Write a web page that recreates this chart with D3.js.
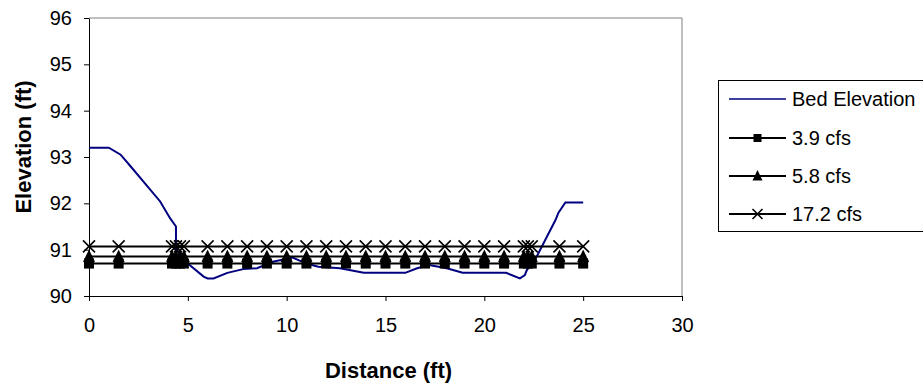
<!DOCTYPE html>
<html><head><meta charset="utf-8">
<script src="https://cdn.jsdelivr.net/npm/d3@7"></script>
<style>body{margin:0;background:#fff;} text{font-family:"Liberation Sans",Arial,sans-serif;}</style>
</head><body><svg id="c" width="923" height="391"></svg>
<script>
const bedX = [0, 1, 1.6, 2.1, 3.6, 4.1, 4.4, 4.4, 4.7, 5.0, 5.8, 6.0, 6.3, 7.0, 7.8, 8.5, 9.3, 10.3, 11.0, 11.6, 12.7, 13.9, 16.0, 16.6, 17.2, 18.1, 18.9, 21.1, 21.8, 22.05, 22.15, 22.6, 23.6, 23.75, 24.1, 25.0];
const bedY = [93.2, 93.2, 93.05, 92.8, 92.04, 91.68, 91.5, 91.0, 90.9, 90.7, 90.42, 90.38, 90.38, 90.5, 90.58, 90.6, 90.74, 90.83, 90.7, 90.63, 90.6, 90.5, 90.5, 90.6, 90.67, 90.6, 90.5, 90.5, 90.38, 90.45, 90.56, 90.81, 91.64, 91.8, 92.02, 92.02];
const wsX = [0, 1.5, 4.2, 4.4, 4.6, 4.8, 6, 7, 8, 9, 10, 11, 12, 13, 14, 15, 16, 17, 18, 19, 20, 21, 22, 22.2, 22.4, 23.8, 25];
const q39 = 90.7, q58 = 90.85, q172 = 91.07;
const seriesNames = ["Bed Elevation", "3.9 cfs", "5.8 cfs", "17.2 cfs"];
const xTicks = [0, 5, 10, 15, 20, 25, 30];
const yTicks = [90, 91, 92, 93, 94, 95, 96];

const svg = d3.select("#c");
const L = 89, R = 682, T = 18, B = 296;
const x = d3.scaleLinear().domain([0, 30]).range([L, R]);
const y = d3.scaleLinear().domain([90, 96]).range([B, T]);

svg.append("path").attr("d", `M${L},${T}H${R}V${B}`).attr("fill","none").attr("stroke","#808080").attr("stroke-width",1);

const xa = svg.append("g").attr("transform", `translate(0,${B})`).call(d3.axisBottom(x).tickValues(xTicks).tickFormat(d3.format("d")).tickSize(5).tickPadding(17).tickSizeOuter(0));
const ya = svg.append("g").attr("transform", `translate(${L},0)`).call(d3.axisLeft(y).tickValues(yTicks).tickFormat(d3.format("d")).tickSize(5).tickPadding(12).tickSizeOuter(0));
[xa, ya].forEach(a => {
  a.selectAll("path,line").attr("stroke", "#000").attr("stroke-width", 1);
  a.selectAll("text").attr("font-size", 20).attr("fill", "#000").attr("font-family", '"Liberation Sans",Arial,sans-serif');
});

svg.append("text").attr("x", x(15) + 3).attr("y", 378).attr("text-anchor","middle").attr("font-size",22).attr("font-weight","bold").text("Distance (ft)");
svg.append("text").attr("transform", `translate(31,147) rotate(-90)`).attr("text-anchor","middle").attr("font-size",22).attr("font-weight","bold").text("Elevation (ft)");

const bed = bedX.map((d,i)=>[d, bedY[i]]);
const line = d3.line().x(d=>x(d[0])).y(d=>y(d[1]));
svg.append("path").datum(bed).attr("d", line).attr("fill","none").attr("stroke","#000080").attr("stroke-width",2);

function marker(g, type, cx, cy, s) {
  if (type === "square") {
    g.append("rect").attr("x", cx - s/2).attr("y", cy - s/2).attr("width", s).attr("height", s).attr("fill","#000");
  } else if (type === "tri") {
    g.append("path").attr("d", `M${cx},${cy - s*0.6}L${cx + s/2},${cy + s*0.45}L${cx - s/2},${cy + s*0.45}Z`).attr("fill","#000");
  } else {
    const h = s/2;
    g.append("path").attr("d", `M${cx-h},${cy-h}L${cx+h},${cy+h}M${cx-h},${cy+h}L${cx+h},${cy-h}`).attr("stroke","#000").attr("stroke-width",1.6);
  }
}
const ws = [[q39, "square", 10], [q58, "tri", 12], [q172, "x", 12]];
ws.forEach(([lev, type, s]) => {
  const pts = wsX.map(d => [d, lev]);
  const g = svg.append("g");
  g.append("path").datum(pts).attr("d", line).attr("fill","none").attr("stroke","#000").attr("stroke-width",2);
  pts.forEach(p => marker(g, type, x(p[0]), y(p[1]), s));
});

const lg = svg.append("g");
lg.append("rect").attr("x", 718.5).attr("y", 80.5).attr("width", 230).attr("height", 151).attr("fill","#fff").attr("stroke","#000").attr("stroke-width",1);
const rowsY = [99, 138, 176, 214];
const types = [null, "square", "tri", "x"];
const sizes = [0, 8, 10, 10];
seriesNames.forEach((n, i) => {
  const ry = rowsY[i];
  lg.append("line").attr("x1", 729).attr("x2", 786).attr("y1", ry).attr("y2", ry).attr("stroke", i === 0 ? "#000080" : "#000").attr("stroke-width", i === 0 ? 1.5 : 2);
  if (types[i]) marker(lg, types[i], 757.5, ry, sizes[i]);
  lg.append("text").attr("x", 792).attr("y", ry + 7).attr("font-size", 20).attr("fill","#000").text(n);
});
</script></body></html>
